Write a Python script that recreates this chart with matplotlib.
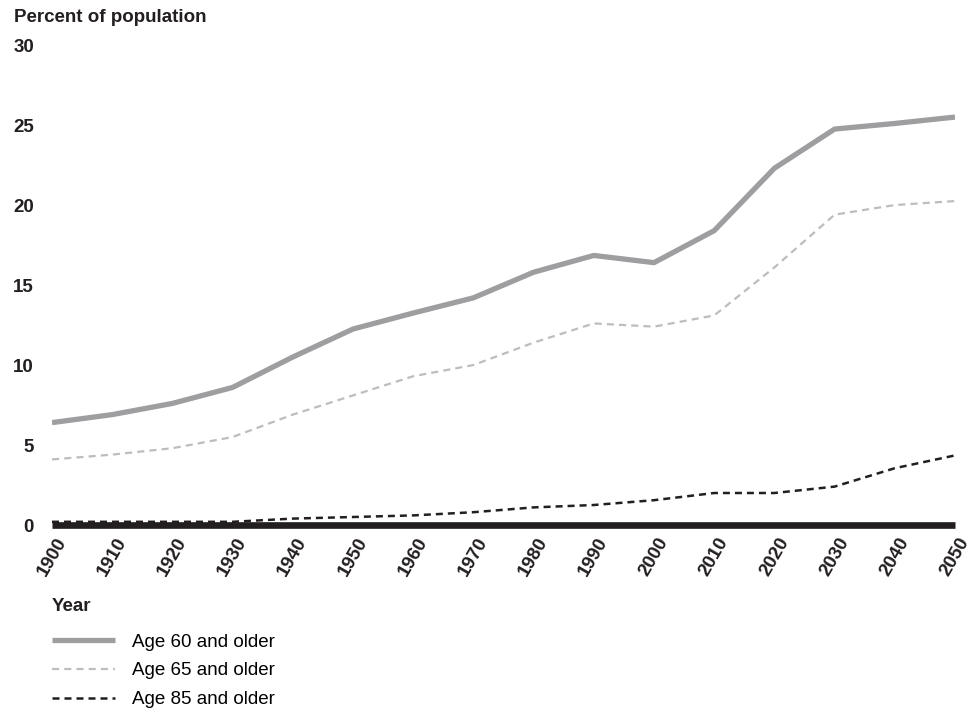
import matplotlib
matplotlib.use("Agg")
import matplotlib.pyplot as plt
from matplotlib.transforms import ScaledTranslation

plt.rcParams['font.family'] = ['Liberation Sans', 'DejaVu Sans']

years = [1900, 1910, 1920, 1930, 1940, 1950, 1960, 1970, 1980, 1990,
         2000, 2010, 2020, 2030, 2040, 2050]
age60 = [6.4, 6.9, 7.6, 8.6, 10.5, 12.25, 13.25, 14.2, 15.8, 16.85,
         16.4, 18.4, 22.3, 24.75, 25.1, 25.5]
age65 = [4.1, 4.4, 4.8, 5.5, 6.9, 8.1, 9.3, 10.0, 11.4, 12.6,
         12.4, 13.1, 16.1, 19.4, 20.0, 20.25]
age85 = [0.2, 0.2, 0.2, 0.2, 0.4, 0.5, 0.6, 0.8, 1.1, 1.25,
         1.55, 2.0, 2.0, 2.4, 3.55, 4.35]
series_labels = ["Age 60 and older", "Age 65 and older", "Age 85 and older"]
yticks = [0, 5, 10, 15, 20, 25, 30]

FS = 13.5
INK = '#231f20'

fig = plt.figure(figsize=(9.72, 7.11), dpi=100)
ax = fig.add_axes([0.0535, 0.2616, 0.929, 0.675])

ax.plot(years, age60, color='#9e9ea0', lw=3.8, solid_capstyle='butt',
        label=series_labels[0], zorder=3)
ax.plot(years, age65, color='#bdbdbf', lw=1.6, dashes=(3.2, 2.3),
        label=series_labels[1], zorder=3)
ax.plot(years, age85, color=INK, lw=1.8, dashes=(2.8, 2.0),
        label=series_labels[2], zorder=4)
ax.axhline(0, color=INK, lw=4.8, zorder=5, solid_capstyle='butt',
           clip_on=False)

ax.set_xlim(years[0], years[-1])
ax.set_ylim(0, 30)
ax.set_xticks(years)
ax.set_yticks(yticks)
ax.tick_params(axis='both', length=0)
ax.tick_params(axis='x', pad=7)
ax.tick_params(axis='y', pad=13)
ax.set_xticklabels([str(y) for y in years], rotation=60, ha='right',
                   rotation_mode='anchor', fontweight='bold', fontsize=FS,
                   color=INK)
ax.set_yticklabels([str(t) for t in yticks], fontweight='bold', fontsize=FS,
                   color=INK)
shift = ScaledTranslation(3 / 100, 0, fig.dpi_scale_trans)
for tick in ax.xaxis.get_major_ticks():
    tick.label1.set_transform(tick.label1.get_transform() + shift)
for s in ax.spines.values():
    s.set_visible(False)

fig.text(0.0144, 0.9747, "Percent of population", fontweight='bold',
         fontsize=FS, color=INK, ha='left', va='center')
fig.text(0.0535, 0.1463, "Year", fontweight='bold', fontsize=FS,
         color=INK, ha='left', va='center')

fig.legend(loc='upper left', bbox_to_anchor=(0.0458, 0.1195), frameon=False,
           fontsize=FS, handlelength=3.36, handletextpad=0.9,
           labelspacing=0.62, borderaxespad=0)

fig.savefig("out.png", dpi=100)
